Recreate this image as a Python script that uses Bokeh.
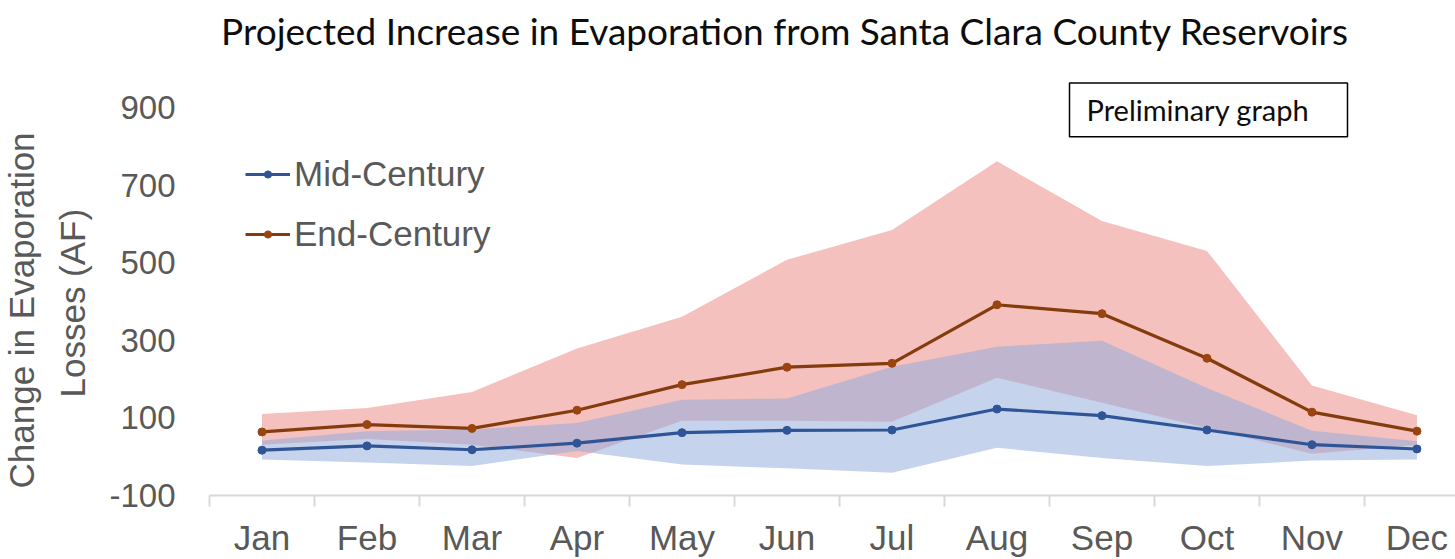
from bokeh.plotting import figure
from bokeh.models import (Range1d, FixedTicker, Label, BoxAnnotation, Legend,
                          LegendItem, ColumnDataSource, Title)
from bokeh.embed import file_html
from bokeh.resources import INLINE

# ---------------- data ----------------
months = ["Jan", "Feb", "Mar", "Apr", "May", "Jun",
          "Jul", "Aug", "Sep", "Oct", "Nov", "Dec"]
mid_century = [17, 28, 18, 35, 62, 68, 69, 123, 106, 69, 31, 20]
end_century = [64, 83, 73, 120, 186, 231, 241, 392, 369, 254, 115, 66]
mid_low = [-7, -15, -24, 15, -20, -30, -41, 23, -3, -24, -10, -7]
mid_high = [42, 66, 70, 87, 147, 150, 232, 284, 299, 177, 67, 40]
end_low = [31, 46, 31, -3, 93, 93, 90, 204, 139, 74, 8, 30]
end_high = [110, 126, 167, 279, 361, 508, 585, 762, 608, 531, 184, 107]
y_ticks = [-100, 100, 300, 500, 700, 900]

title_text = "Projected Increase in Evaporation from Santa Clara County Reservoirs"
y_title_1 = "Change in Evaporation"
y_title_2 = "Losses (AF)"
note_text = "Preliminary graph"

# ---------------- layout ----------------
W, H = 1455, 559
BL, BB = 209, 61
FW, FH = W - BL, H - BB
X0, X1 = -0.5, 11.367
Y0 = -100
Y1 = Y0 + FH / 0.39


def X(sx):
    return X0 + (sx - BL) / FW * (X1 - X0)


def Y(sy):
    return Y0 + (FH - sy) / FH * (Y1 - Y0)


ARIAL = "Liberation Sans"
GREY = "#595959"

p = figure(width=W, height=H, x_range=Range1d(X0, X1), y_range=Range1d(Y0, Y1),
           output_backend="svg", toolbar_location=None, title=None,
           min_border_left=BL, min_border_right=0, min_border_top=0,
           min_border_bottom=BB)
p.outline_line_color = None
p.background_fill_color = "white"
p.border_fill_color = "white"
p.xgrid.grid_line_color = None
p.ygrid.grid_line_color = None

src = ColumnDataSource(dict(x=list(range(len(months))), month=months,
                            mid=mid_century, end=end_century,
                            mid_low=mid_low, mid_high=mid_high,
                            end_low=end_low, end_high=end_high))

p.varea(x="x", y1="end_low", y2="end_high", source=src,
        fill_color="#F5C1BE", fill_alpha=1.0)
p.varea(x="x", y1="mid_low", y2="mid_high", source=src,
        fill_color="#8FAADC", fill_alpha=0.52)

BLUE = "#2F5597"
BROWN = "#843C0C"
l_end = p.line("x", "end", source=src, line_color=BROWN, line_width=3.2)
s_end = p.scatter("x", "end", source=src, size=8, fill_color="#9A4510",
                  line_color="#9A4510")
l_mid = p.line("x", "mid", source=src, line_color=BLUE, line_width=3.2)
s_mid = p.scatter("x", "mid", source=src, size=8, fill_color=BLUE,
                  line_color=BLUE)

# ---------------- axes ----------------
xa = p.xaxis[0]
xa.ticker = FixedTicker(ticks=list(range(12)),
                        minor_ticks=[i - 0.5 for i in range(13)])
xa.major_label_overrides = {i: m for i, m in enumerate(months)}
xa.major_tick_line_color = None
xa.major_tick_out = 0
xa.major_tick_in = 0
xa.minor_tick_in = 0
xa.minor_tick_out = 11
xa.minor_tick_line_color = "#D9D9D9"
xa.minor_tick_line_width = 2
xa.axis_line_color = "#D9D9D9"
xa.axis_line_width = 2
xa.major_label_standoff = 11
xa.major_label_text_line_height = 1.1
xa.major_label_text_font = ARIAL
xa.major_label_text_font_size = "35px"
xa.major_label_text_color = GREY

ya = p.yaxis[0]
ya.ticker = FixedTicker(ticks=y_ticks)
ya.major_label_overrides = {t: str(t) for t in y_ticks}
ya.axis_line_color = None
ya.major_tick_line_color = None
ya.minor_tick_line_color = None
ya.major_tick_out = 0
ya.major_tick_in = 0
ya.major_label_standoff = 34
ya.major_label_text_font = ARIAL
ya.major_label_text_font_size = "33px"
ya.major_label_text_color = GREY

# y-axis title: two stacked titles in the left panel (nearest first)
t2 = Title(text=y_title_2, align="left", offset=98, standoff=26,
           vertical_align="top",
           text_font=ARIAL, text_font_size="35px", text_color=GREY,
           text_font_style="normal")
t1 = Title(text=y_title_1, align="left", offset=7, standoff=-6,
           vertical_align="top",
           text_font=ARIAL, text_font_size="35px", text_color=GREY,
           text_font_style="normal")
p.add_layout(t2, "left")
p.add_layout(t1, "left")

# ---------------- legend ----------------
legend = Legend(items=[LegendItem(label="Mid-Century", renderers=[l_mid, s_mid]),
                       LegendItem(label="End-Century", renderers=[l_end, s_end])],
                location=(36, 241), glyph_width=45, glyph_height=18,
                label_height=34, label_standoff=4, spacing=20, padding=0,
                margin=0, border_line_color=None, background_fill_alpha=0,
                label_text_font=ARIAL, label_text_font_size="35px",
                label_text_color=GREY)
p.add_layout(legend)

# ---------------- texts ----------------
p.add_layout(Label(x=X(784.5), y=Y(30), text=title_text, text_align="center",
                   text_baseline="alphabetic", text_font="Lato",
                   text_font_size="37px", text_color="#0D0D0D"))

p.add_layout(BoxAnnotation(left=X(1069), right=X(1347), top=Y(83), bottom=Y(137),
                           fill_color="white", fill_alpha=1.0,
                           line_color="black", line_alpha=1.0, line_width=1.5))
p.add_layout(Label(x=X(1086), y=Y(110), text=note_text, text_align="left",
                   text_baseline="alphabetic", text_font="Lato",
                   text_font_size="29px", text_color="#0D0D0D"))

open("out.html", "w").write(file_html(p, INLINE))
